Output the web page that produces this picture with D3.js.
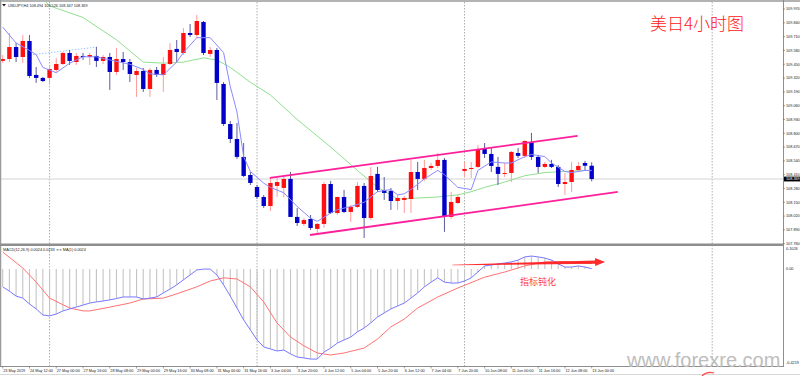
<!DOCTYPE html>
<html>
<head>
<meta charset="utf-8">
<script src="https://cdn.jsdelivr.net/npm/d3@7"></script>
<style>
  body { margin: 0; background: #fff; }
  svg { display: block; }
  .small { font-family: 'Liberation Sans', Arial, sans-serif; font-size: 3.8px; fill: #222; }
</style>
</head>
<body>
<div id="chart"></div>
<script>
// USDJPY H4 - candles, MA, MACD

// Bougies (index 0 = 23 May 20:00, 88 = 13 Jun 00:00)
const opens = [109.481,109.499,109.612,109.518,109.669,109.349,109.321,109.321,109.396,109.452,
  109.556,109.471,109.528,109.518,109.528,109.481,109.518,109.377,109.499,109.471,
  109.349,109.386,109.217,109.396,109.349,109.452,109.594,109.556,109.744,109.725,
  109.848,109.547,109.584,109.264,108.887,108.746,108.577,108.407,108.294,108.200,
  108.115,108.304,108.285,108.370,108.012,107.946,107.993,107.899,107.946,108.322,
  108.049,108.200,108.059,108.106,108.304,108.002,108.417,108.266,108.257,108.162,
  108.172,108.181,108.435,108.370,108.473,108.492,108.549,108.012,108.143,108.445,
  108.464,108.483,108.652,108.605,108.483,108.417,108.426,108.614,108.587,108.718,
  108.577,108.483,108.511,108.483,108.322,108.341,108.454,108.520,108.494];
const highs = [109.537,109.744,109.650,109.725,109.725,109.424,109.330,109.443,109.509,109.565,
  109.584,109.556,109.556,109.556,109.612,109.537,109.556,109.603,109.565,109.499,
  109.415,109.415,109.415,109.424,109.518,109.650,109.678,109.791,109.829,109.914,
  109.857,109.612,109.603,109.283,108.916,108.897,108.708,108.435,108.313,108.219,
  108.379,108.379,108.388,108.435,108.096,108.002,108.031,107.955,108.341,108.351,
  108.200,108.266,108.125,108.341,108.332,108.483,108.483,108.388,108.285,108.219,
  108.210,108.549,108.530,108.549,108.520,108.614,108.567,108.247,108.219,108.530,
  108.530,108.690,108.708,108.661,108.577,108.520,108.633,108.661,108.737,108.803,
  108.596,108.530,108.549,108.501,108.426,108.530,108.530,108.540,108.526];
const lows = [109.462,109.471,109.471,109.462,109.321,109.274,109.283,109.274,109.377,109.443,
  109.443,109.443,109.490,109.443,109.424,109.452,109.208,109.349,109.396,109.283,
  109.142,109.189,109.142,109.330,109.189,109.443,109.471,109.537,109.707,109.697,
  109.537,109.518,109.113,108.869,108.708,108.558,108.388,108.313,108.181,108.096,
  108.068,108.200,108.200,108.012,107.927,107.927,107.889,107.842,107.908,108.040,
  108.031,108.049,107.965,108.096,107.814,107.983,108.247,108.172,108.078,108.078,
  108.049,108.049,108.266,108.351,108.454,108.473,107.871,107.993,108.134,108.388,
  108.379,108.473,108.567,108.435,108.313,108.388,108.341,108.567,108.567,108.549,
  108.426,108.473,108.473,108.294,108.219,108.247,108.435,108.445,108.347];
const closes = [109.499,109.612,109.518,109.669,109.339,109.321,109.292,109.405,109.452,109.556,
  109.481,109.528,109.518,109.537,109.481,109.518,109.377,109.499,109.471,109.358,
  109.386,109.217,109.396,109.349,109.452,109.584,109.565,109.744,109.725,109.857,
  109.556,109.584,109.274,108.887,108.746,108.577,108.398,108.332,108.200,108.115,
  108.332,108.341,108.370,108.012,107.955,107.983,107.908,107.946,108.322,108.049,
  108.200,108.059,108.106,108.304,108.002,108.398,108.266,108.238,108.162,108.191,
  108.191,108.435,108.370,108.473,108.492,108.549,108.012,108.153,108.200,108.464,
  108.473,108.652,108.605,108.492,108.417,108.426,108.624,108.587,108.727,108.577,
  108.483,108.511,108.483,108.322,108.341,108.454,108.492,108.494,108.369];

// Moyennes mobiles [index, prix]
const fastMA = [[0,109.80],[2,109.65],[4,109.58],[5,109.54],[6,109.42],[8,109.37],[10,109.46],
  [12,109.52],[14,109.52],[16,109.49],[19,109.45],[21,109.40],[22,109.36],[24,109.35],
  [26,109.47],[27,109.56],[29,109.70],[31,109.70],[33,109.56],[34,109.24],[35,109.00],
  [36,108.58],[37,108.44],[39,108.33],[40,108.29],[42,108.24],[44,108.11],[46,108.00],
  [47,107.97],[49,108.05],[50,108.08],[52,108.11],[54,108.15],[56,108.25],[58,108.27],
  [59,108.22],[60,108.23],[61,108.27],[63,108.37],[65,108.45],[66,108.41],[68,108.29],
  [70,108.27],[71,108.45],[73,108.53],[75,108.52],[76,108.52],[78,108.58],[79,108.60],
  [81,108.58],[82,108.52],[84,108.44],[85,108.43],[87,108.45],[88,108.45]];
const slowMA = [[4,110.20],[7,110.00],[12,109.89],[17,109.68],[21,109.47],[24,109.46],
  [27,109.47],[30,109.51],[32,109.49],[34,109.42],[37,109.28],[40,109.16],[44,108.93],
  [49,108.67],[53,108.45],[56,108.29],[58,108.22],[59,108.18],[62,108.19],[65,108.20],
  [68,108.22],[70,108.25],[72,108.29],[75,108.34],[78,108.40],[81,108.43],[84,108.44],
  [87,108.45],[88,108.45]];

// MACD (barres + ligne) et signal
const macd = [-0.079,-0.098,-0.120,-0.129,-0.155,-0.177,-0.204,-0.208,-0.200,-0.186,
  -0.177,-0.169,-0.160,-0.151,-0.146,-0.142,-0.137,-0.131,-0.124,-0.124,
  -0.124,-0.133,-0.129,-0.124,-0.106,-0.089,-0.070,-0.048,-0.026,-0.004,
  0.000,0.000,-0.026,-0.070,-0.120,-0.173,-0.226,-0.270,-0.315,-0.346,
  -0.355,-0.364,-0.360,-0.377,-0.391,-0.395,-0.400,-0.400,-0.369,-0.351,
  -0.329,-0.315,-0.302,-0.279,-0.262,-0.239,-0.213,-0.195,-0.177,-0.164,
  -0.151,-0.129,-0.106,-0.079,-0.058,-0.039,-0.058,-0.062,-0.062,-0.053,
  -0.039,-0.013,0.014,0.018,0.023,0.027,0.032,0.040,0.054,0.058,
  0.054,0.049,0.040,0.023,0.009,0.009,0.014,0.009,0.002];
const signal = [[0,0.076],[3,0.005],[5,-0.058],[7,-0.129],[10,-0.173],[12,-0.186],[13,-0.186],
  [16,-0.169],[19,-0.151],[21,-0.133],[24,-0.129],[26,-0.110],[29,-0.079],[31,-0.053],
  [33,-0.039],[35,-0.044],[37,-0.079],[39,-0.146],[41,-0.240],[43,-0.302],[45,-0.341],
  [47,-0.373],[49,-0.382],[51,-0.373],[54,-0.351],[56,-0.311],[58,-0.257],[60,-0.222],
  [62,-0.173],[65,-0.124],[68,-0.084],[72,-0.036],[75,-0.013],[78,0.014],[81,0.032],
  [84,0.034],[88,0.025]];

// Axes
const priceTicks = [109.970,109.840,109.710,109.580,109.450,109.320,109.190,109.060,108.930,
  108.800,108.670,108.540,108.410,108.280,108.150,108.020,107.890,107.760];
const macdTicks = [0.1026, 0, -0.4219];
const macdTickLabels = ['0.1026', '0.00', '-0.4219'];
const timeLabels = ['23 May 2019','24 May 12:00','27 May 00:00','27 May 16:00','28 May 08:00',
  '29 May 00:00','29 May 16:00','30 May 08:00','31 May 00:00','31 May 16:00','3 Jun 04:00',
  '3 Jun 20:00','4 Jun 12:00','5 Jun 04:00','5 Jun 20:00','6 Jun 12:00','7 Jun 04:00',
  '7 Jun 20:00','10 Jun 08:00','11 Jun 00:00','11 Jun 16:00','12 Jun 08:00','13 Jun 00:00'];
const separators = [7, 38, 69, 106];
const lastPrice = 108.369;

// Canal tracé à la main [index, prix]
const channelUpper = [[39.9,108.379],[85.9,108.775]];
const channelLower = [[45.9,107.842],[91.9,108.247]];
const dottedLine = [[4.1,109.537],[14.1,109.612]];

function draw() {
    const W = 800, H = 376;
    const axisX = 783;
    const main = {top: 2, bottom: 244};
    const sub = {top: 246, bottom: 364};

    const svg = d3.select('#chart').append('svg')
        .attr('width', W).attr('height', H);

    const x = d3.scaleLinear().domain([0, 88]).range([2.7, 591.7]);
    const y = d3.scaleLinear().domain([107.76, 109.97]).range([243.7, 9]);
    const ym = d3.scaleLinear().domain([-0.4219, 0.1026]).range([sub.bottom, sub.top]);

    const defs = svg.append('defs');
    defs.append('clipPath').attr('id', 'clipMain').append('rect')
        .attr('x', 1).attr('y', main.top).attr('width', axisX - 1).attr('height', main.bottom - main.top);
    defs.append('clipPath').attr('id', 'clipSub').append('rect')
        .attr('x', 1).attr('y', sub.top).attr('width', axisX - 1).attr('height', sub.bottom - sub.top + 2);

    // Séparateurs de semaine
    svg.append('g').selectAll('line').data(separators).join('line')
        .attr('x1', d => x(d)).attr('x2', d => x(d))
        .attr('y1', main.top).attr('y2', 366)
        .attr('stroke', '#999').attr('stroke-width', 0.8)
        .attr('stroke-dasharray', '1.5,1.5');

    // Ligne du dernier prix
    svg.append('line')
        .attr('x1', 1).attr('x2', axisX)
        .attr('y1', y(lastPrice)).attr('y2', y(lastPrice))
        .attr('stroke', '#d4d4d4').attr('stroke-width', 1);

    const gMain = svg.append('g').attr('clip-path', 'url(#clipMain)');

    const line = d3.line().x(d => x(d[0])).y(d => y(d[1]));

    gMain.append('path').datum(slowMA)
        .attr('d', line).attr('fill', 'none')
        .attr('stroke', '#8fe08f').attr('stroke-width', 1);

    gMain.append('path').datum(dottedLine)
        .attr('d', line).attr('fill', 'none')
        .attr('stroke', '#9ec8ff').attr('stroke-width', 1)
        .attr('stroke-dasharray', '1.5,1.5');

    // Bougies
    const candles = opens.map((o, i) => ({i, o, h: highs[i], l: lows[i], c: closes[i]}));
    const up = d => d.c >= d.o;

    gMain.selectAll('.wick').data(candles).join('line')
        .attr('class', 'wick')
        .attr('x1', d => x(d.i)).attr('x2', d => x(d.i))
        .attr('y1', d => y(d.h)).attr('y2', d => y(d.l))
        .attr('stroke', d => up(d) ? '#ff9a9a' : '#5b5b9c')
        .attr('stroke-width', 1);

    gMain.selectAll('.body').data(candles).join('rect')
        .attr('class', 'body')
        .attr('x', d => x(d.i) - 2.2)
        .attr('width', 4.4)
        .attr('y', d => y(Math.max(d.o, d.c)))
        .attr('height', d => Math.max(1, Math.abs(y(d.o) - y(d.c))))
        .attr('fill', d => up(d) ? '#ff1010' : '#0000c8');

    gMain.append('path').datum(fastMA)
        .attr('d', line).attr('fill', 'none')
        .attr('stroke', '#8a8aff').attr('stroke-width', 1);

    // Canal
    [channelUpper, channelLower].forEach(ch => {
        gMain.append('line')
            .attr('x1', x(ch[0][0])).attr('y1', y(ch[0][1]))
            .attr('x2', x(ch[1][0])).attr('y2', y(ch[1][1]))
            .attr('stroke', '#ff1f9a').attr('stroke-width', 1.8);
    });

    // En-tête
    svg.append('path').attr('d', 'M2,4 L6,4 L4,6.5 Z').attr('fill', '#222');
    svg.append('text').attr('class', 'small').attr('x', 8).attr('y', 6.5)
        .text('USDJPY,H4 108.494 108.526 108.347 108.369');

    // Panneau MACD
    const gSub = svg.append('g').attr('clip-path', 'url(#clipSub)');

    gSub.selectAll('.hist').data(macd).join('line')
        .attr('class', 'hist')
        .attr('x1', (d, i) => x(i)).attr('x2', (d, i) => x(i))
        .attr('y1', ym(0)).attr('y2', d => ym(d))
        .attr('stroke', '#c4c4c4').attr('stroke-width', 1.1);

    const lineM = d3.line().x(d => x(d[0])).y(d => ym(d[1]));

    gSub.append('path').datum(signal)
        .attr('d', lineM).attr('fill', 'none')
        .attr('stroke', '#ff7272').attr('stroke-width', 1);

    gSub.append('path').datum(macd.map((v, i) => [i, v]))
        .attr('d', lineM).attr('fill', 'none')
        .attr('stroke', '#7878ff').attr('stroke-width', 1);

    svg.append('text').attr('class', 'small').attr('x', 3).attr('y', 250.5)
        .text('MACD(12,26,9) 0.0024 0.0233   \u221d\u221d MA(1) 0.0024');

    // Flèche "指标钝化"
    const a0 = [x(67.2), ym(0.018)], a1 = [x(90), ym(0.032)];
    const dx = a1[0] - a0[0], dy = a1[1] - a0[1];
    const len = Math.hypot(dx, dy), ux = dx / len, uy = dy / len, nx = -uy, ny = ux;
    const headL = 10, headW = 4, shaft = 1.6;
    const b = [a1[0] - ux * headL, a1[1] - uy * headL];
    const arrowPts = [
        [a0[0] + nx * 0.3, a0[1] + ny * 0.3],
        [b[0] + nx * shaft, b[1] + ny * shaft],
        [b[0] + nx * headW, b[1] + ny * headW],
        a1,
        [b[0] - nx * headW, b[1] - ny * headW],
        [b[0] - nx * shaft, b[1] - ny * shaft],
        [a0[0] - nx * 0.3, a0[1] - ny * 0.3]
    ];
    svg.append('polygon')
        .attr('points', arrowPts.map(p => p.join(',')).join(' '))
        .attr('fill', '#ff1a1a').attr('opacity', 0.92);

    svg.append('text')
        .attr('x', x(77.3)).attr('y', ym(-0.057) + 3.5)
        .attr('font-family', "'Noto Sans CJK SC', sans-serif")
        .attr('font-size', 9).attr('fill', '#ff3c3c')
        .text('指标钝化');

    // Cadres
    svg.append('line').attr('x1', 0).attr('x2', W).attr('y1', 1).attr('y2', 1)
        .attr('stroke', '#9a9a9a').attr('stroke-width', 1.5);
    svg.append('line').attr('x1', 0.5).attr('x2', 0.5).attr('y1', 0).attr('y2', 367)
        .attr('stroke', '#9a9a9a').attr('stroke-width', 1.5);
    svg.append('rect').attr('x', 0).attr('y', 243.5).attr('width', axisX).attr('height', 2.5)
        .attr('fill', '#8e8e8e');
    svg.append('line').attr('x1', axisX + 0.5).attr('x2', axisX + 0.5).attr('y1', 0).attr('y2', 367)
        .attr('stroke', '#8e8e8e').attr('stroke-width', 1);
    svg.append('line').attr('x1', 0).attr('x2', axisX).attr('y1', 366.5).attr('y2', 366.5)
        .attr('stroke', '#8e8e8e').attr('stroke-width', 1);

    // Axe des prix
    const gy = svg.append('g');
    gy.selectAll('line').data(priceTicks).join('line')
        .attr('x1', axisX).attr('x2', axisX + 2)
        .attr('y1', d => y(d)).attr('y2', d => y(d))
        .attr('stroke', '#666').attr('stroke-width', 0.6);
    gy.selectAll('text').data(priceTicks).join('text')
        .attr('class', 'small')
        .attr('x', axisX + 3).attr('y', d => y(d) + 1.3)
        .text(d => d.toFixed(3));

    svg.append('rect').attr('x', axisX + 1).attr('y', y(lastPrice) - 2.4)
        .attr('width', 16).attr('height', 4.8).attr('fill', '#000');
    svg.append('text').attr('class', 'small').style('fill', '#fff')
        .attr('x', axisX + 3).attr('y', y(lastPrice) + 1.3)
        .text(lastPrice.toFixed(3));

    // Axe MACD
    svg.append('g').selectAll('text').data(macdTicks).join('text')
        .attr('class', 'small')
        .attr('x', axisX + 3)
        .attr('y', (d, i) => i === 0 ? ym(d) + 4 : (i === 2 ? ym(d) : ym(d) + 1.3))
        .text((d, i) => macdTickLabels[i]);

    // Axe du temps
    const gx = svg.append('g');
    gx.selectAll('line').data(timeLabels).join('line')
        .attr('x1', (d, i) => x(i * 4)).attr('x2', (d, i) => x(i * 4))
        .attr('y1', 366.5).attr('y2', 368.5)
        .attr('stroke', '#666').attr('stroke-width', 0.6);
    gx.selectAll('text').data(timeLabels).join('text')
        .attr('class', 'small')
        .attr('x', (d, i) => x(i * 4) + 0.5).attr('y', 371.5)
        .text(d => d);
    svg.append('line').attr('x1', 0).attr('x2', W).attr('y1', 374.5).attr('y2', 374.5)
        .attr('stroke', '#d8d8d8').attr('stroke-width', 1);

    // Titre
    svg.append('text')
        .attr('x', 650).attr('y', 30)
        .attr('font-family', "'Noto Sans CJK SC', sans-serif")
        .attr('font-weight', 300)
        .attr('font-size', 17).attr('fill', '#ff2020')
        .text('美日4小时图');

    // Filigrane
    svg.append('text')
        .attr('x', 627).attr('y', 367)
        .attr('font-family', "'Liberation Sans', Arial, sans-serif")
        .attr('font-size', 20).attr('fill', '#bdbdbd')
        .text('www.forexre.com');
    svg.append('path')
        .attr('d', 'M702,376 Q707,371 714,373')
        .attr('fill', 'none').attr('stroke', '#ff4a4a').attr('stroke-width', 1.2);
}

draw();
</script>
</body>
</html>
